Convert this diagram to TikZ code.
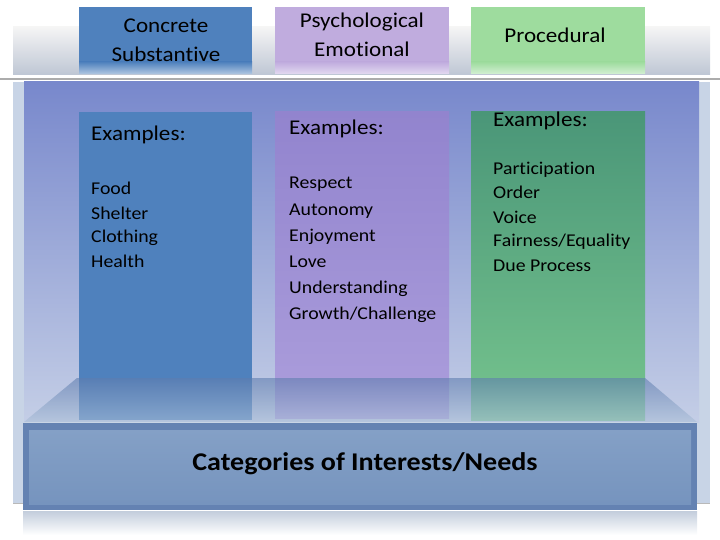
\documentclass[tikz,border=0pt]{standalone}
\usepackage{fontspec}
\setmainfont{Carlito}[FakeStretch=1.1,Ligatures=NoCommon]
\usepackage{tikz}

\definecolor{bandgray}{RGB}{190,198,212}
\definecolor{hdblue}{RGB}{79,129,189}
\definecolor{hdpurple}{RGB}{192,172,222}
\definecolor{hdgreen}{RGB}{158,220,158}
\definecolor{sidegray}{RGB}{200,212,230}
\definecolor{panelblue}{RGB}{120,136,204}
\definecolor{panellight}{RGB}{196,206,230}
\definecolor{colblue}{RGB}{79,129,189}
\definecolor{colpurple}{RGB}{146,132,206}
\definecolor{colpurplelow}{RGB}{172,158,220}
\definecolor{colgreen}{RGB}{74,150,120}
\definecolor{colgreenlow}{RGB}{118,196,142}
\definecolor{facetop}{RGB}{95,125,175}
\definecolor{facelow}{RGB}{172,192,216}
\definecolor{frontdark}{RGB}{100,130,178}
\definecolor{frontlight}{RGB}{132,160,198}
\definecolor{frontmid}{RGB}{118,148,190}
\definecolor{reflect}{RGB}{195,205,220}

\begin{document}
\begin{tikzpicture}[x=1pt,y=-1pt,
	hd/.style={anchor=base,inner sep=0pt,font=\fontsize{21}{25}\selectfont},
	ex/.style={anchor=base west,inner sep=0pt,font=\fontsize{21}{25}\selectfont},
	item/.style={anchor=base west,inner sep=0pt,font=\fontsize{18}{22}\selectfont},
	title/.style={anchor=base,inner sep=0pt,font=\fontsize{25.5}{30}\selectfont\bfseries}]
			\useasboundingbox (0,0) rectangle (720,540);
			\shade[top color=gray!8, bottom color=bandgray] (13,27) rectangle (710,75);
			\foreach \xa/\xb/\c in {79/252/hdblue, 275/449/hdpurple, 471/645/hdgreen}
			{\fill[\c] (\xa,7) rectangle (\xb,62);
				\shade[top color=\c, bottom color=\c!45!white] (\xa,62) rectangle (\xb,74);}
			\draw[line width=2pt, gray!65] (0,79) -- (720,79);
			\fill[sidegray] (13,82) rectangle (710,503);
			\draw[gray!55, line width=0.8pt] (13,503) -- (710,503);
			\shade[top color=panelblue, bottom color=panellight] (24,82) rectangle (699,422);
			\fill[colblue] (79,112) rectangle (252,420);
			\shade[top color=colpurple, bottom color=colpurplelow] (275,112) rectangle (449,418);
			\shade[top color=colgreen, bottom color=colgreenlow] (471,112) rectangle (645,420);
			\shade[top color=facetop, bottom color=facelow, fill opacity=0.6] (24,422) -- (77,378) -- (645,378) -- (697,422) -- cycle;
			\fill[frontdark] (23,422) rectangle (697,510);
			\shade[top color=frontlight, bottom color=frontmid] (29,430) rectangle (691,504);
			\draw[white!55!frontlight, line width=1pt] (23,422.5) -- (697,422.5);
			\shade[top color=reflect, bottom color=white] (23,511) rectangle (697,535);
			\node[hd] (conc) at (166,33) {Concrete};
			\node[hd] (subst) at (166,62) {Substantive};
			\node[hd] (psych) at (362,28) {Psychological};
			\node[hd] (emot) at (362,57) {Emotional};
			\node[hd] (proc) at (555,43) {Procedural};
			\node[ex] (exblue) at (91,141) {Examples:};
			\node[ex] (expurple) at (289,135) {Examples:};
			\node[ex] (exgreen) at (493,127) {Examples:};
			\foreach \t [count=\i] in {Food,Shelter,Clothing,Health}
			\node[item] (blue\i) at (91,171+24*\i) {\t};
			\foreach \t [count=\i] in {Respect,Autonomy,Enjoyment,Love,Understanding,Growth/Challenge}
			\node[item] (purple\i) at (289,163+26*\i) {\t};
			\foreach \t [count=\i] in {Participation,Order,Voice,Fairness/Equality,Due Process}
			\node[item] (green\i) at (493,151+24*\i) {\t};
			\node[title] (cat) at (365,470) {Categories of Interests/Needs};
			\end{tikzpicture}
\end{document}
